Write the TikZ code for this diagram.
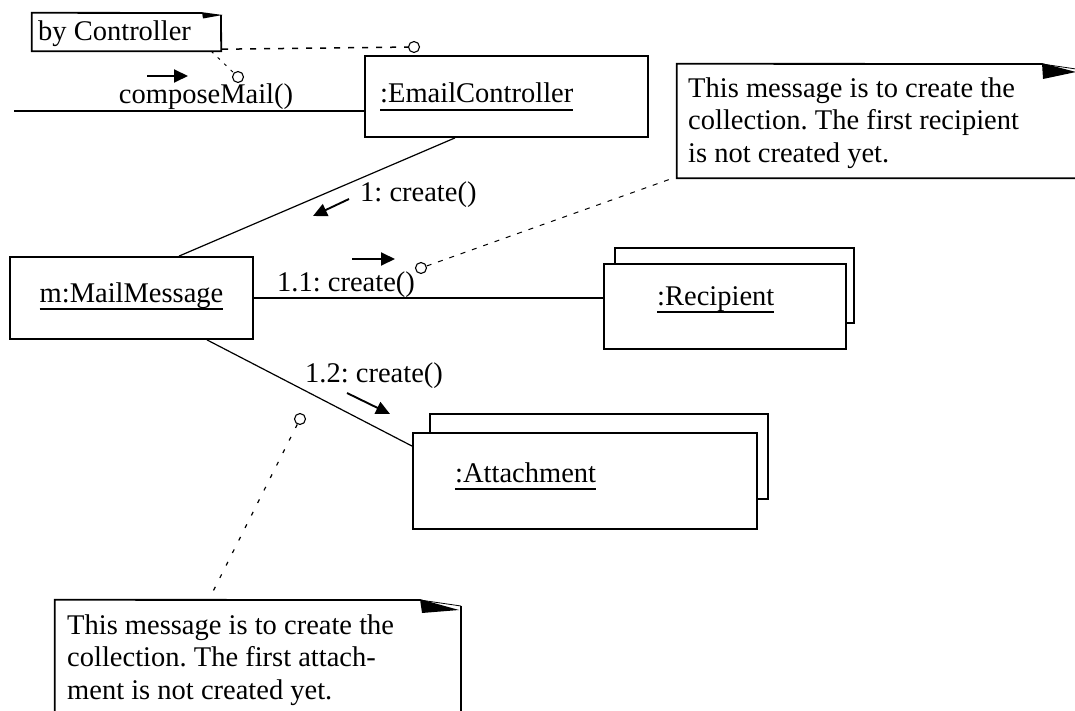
\documentclass[tikz,border=0pt]{standalone}
\usepackage{fontspec}
\setmainfont{Liberation Serif}
\usetikzlibrary{arrows.meta,calc}
\frenchspacing

% object names are underlined with a rule set below the descenders
\newcommand\objname[1]{\setbox0=\hbox{#1}\rlap{\vrule height -6.4pt depth 8.2pt width \wd0}\box0}

\tikzset{
  obj/.style={draw, line width=1.8pt, inner sep=0pt},
  objback/.style={line width=1.8pt},
  frame/.style={inner sep=0pt},
  link/.style={line width=1.2pt},
  msg/.style={line width=1.9pt, -{Triangle[length=14pt,width=13pt]}},
  lbl/.style={inner sep=0pt, font=\fontsize{28.5}{32.5}\selectfont},
  notetext/.style={lbl, align=left, anchor=north west},
  noteline/.style={line width=1.8pt},
  earline/.style={line width=0.8pt},
  anchorcirc/.style={circle, draw, line width=1.1pt, minimum size=11pt, inner sep=0pt},
  dashA/.style={line width=1.5pt, dash pattern=on 6pt off 8pt},
  dashB/.style={line width=1pt, dash pattern=on 3pt off 6pt},
  dashC/.style={line width=1pt, dash pattern=on 5pt off 7pt},
  dashD/.style={line width=1.2pt, dash pattern=on 4pt off 10pt},
}

\begin{document}
\begin{tikzpicture}[x=1pt,y=-1pt]
\useasboundingbox (0,0) rectangle (1075,711);
\clip (0,0) rectangle (1075,711);

% ---------- objects ----------
\node[obj, minimum width=283pt, minimum height=81pt] (ec) at (506.5,96.5) {};
\node[lbl, anchor=base west] (ecname) at (380,103) {\objname{:EmailController}};

\node[obj, minimum width=243pt, minimum height=82pt] (mm) at (131.5,298) {};
\node[lbl, anchor=base] (mmname) at (131.5,302) {\objname{m:MailMessage}};

\draw[objback] (615,264) -- (615,248) -- (854,248) -- (854,323) -- (846,323);
\node[obj, fill=white, minimum width=242pt, minimum height=85pt] (rec) at (725,306.5) {};
\node[lbl, anchor=base west] (recname) at (657,305) {\objname{:Recipient}};

\draw[objback] (430,433) -- (430,414) -- (768,414) -- (768,499) -- (757,499);
\node[obj, fill=white, minimum width=344pt, minimum height=96pt] (att) at (585,481) {};
\node[lbl, anchor=base west] (attname) at (455,482) {\objname{:Attachment}};

% ---------- links ----------
\coordinate (cmfree) at (14,111);
\draw[link] (cmfree) -- (cmfree -| ec.west);
\draw[link] ([xshift=-51.5pt]ec.south) -- ([xshift=47.5pt]mm.north);
\draw[link] (mm.east) -- (mm.east -| rec.west);
\draw[link] ([xshift=75.5pt]mm.south) -- ([yshift=-14pt]att.north west);

% ---------- messages ----------
\node[lbl, anchor=base] (m0) at (206,104) {composeMail()};
\coordinate (m0a) at (147,76);
\coordinate (m0b) at (188,76);
\draw[msg] (m0a) -- (m0b);

\node[lbl, anchor=base west] (m1) at (360,202) {1: create()};
\coordinate (m1a) at (349,199);
\coordinate (m1b) at (313,216);
\draw[msg] (m1a) -- (m1b);

\node[lbl, anchor=base west] (m11) at (277,291) {1.1: create()};
\coordinate (m11a) at (352,259);
\coordinate (m11b) at (395,259);
\draw[msg] (m11a) -- (m11b);

\node[lbl, anchor=base west] (m12) at (305,382) {1.2: create()};
\coordinate (m12a) at (347,393);
\coordinate (m12b) at (390,414);
\draw[msg] (m12a) -- (m12b);

% ---------- notes ----------
\node[frame, minimum width=189pt, minimum height=38pt] (bc) at (126.5,32) {};
\draw[noteline] (202,13) -- (bc.north west) -- (bc.south west) -- (bc.south east) -- (221,15);
\fill (202,12.2) -- (203,18.5) -- (222.5,15) -- cycle;
\node[lbl, anchor=base west] (bctext) at (38,41) {by Controller};

\node[frame, minimum width=413pt, minimum height=114pt] (n1) at (883.5,121) {};
\draw[noteline] (1042,64) -- (n1.north west) -- (n1.south west) -- (n1.south east);
\fill (1042,63.1) -- (1043,79) -- (1076,72) -- cycle;
\draw[earline] (1042,64) -- (1076,69);
\node[notetext] (n1text) at (688,77.5) {This message is to create the\\collection. The first recipient\\is not created yet.};

\node[frame, minimum width=406pt, minimum height=120pt] (n2) at (258,660) {};
\draw[noteline] (420,600) -- (n2.north west) -- (n2.south west);
\draw[noteline] (461,606) -- (461,720);
\fill (420,599.1) -- (422,613) -- (459,610) -- cycle;
\draw[earline] (420,600) -- (461,606);
\node[notetext] (n2text) at (67,614.5) {This message is to create the\\collection. The first attach-\\ment is not created yet.};

% ---------- note anchors ----------
\node[anchorcirc] (c1) at (414,47) {};
\node[anchorcirc] (c2) at (238,77) {};
\node[anchorcirc] (c3) at (421,268) {};
\node[anchorcirc] (c4) at (300,419) {};

\draw[dashA] ([xshift=1pt,yshift=2pt]bc.south east) -- (c1);
\draw[dashB] ([xshift=-10pt]bc.south east) -- (c2);
\draw[dashC] (c3) -- ([xshift=-4pt]n1.south west);
\draw[dashD] (c4) -- ([xshift=154pt]n2.north west);
\end{tikzpicture}
\end{document}
